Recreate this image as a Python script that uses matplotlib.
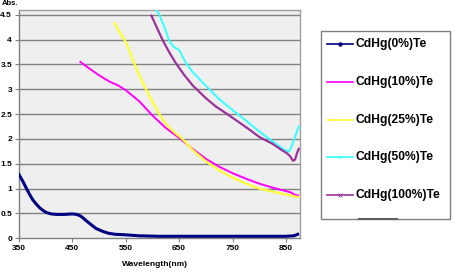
import matplotlib
matplotlib.use("Agg")
import matplotlib.pyplot as plt
from matplotlib.lines import Line2D
from matplotlib.patches import Rectangle

plt.rcParams['font.family'] = ['Liberation Sans', 'DejaVu Sans']

labels = ["CdHg(0%)Te", "CdHg(10%)Te", "CdHg(25%)Te", "CdHg(50%)Te", "CdHg(100%)Te"]
colors = ["#000080", "#FF00FF", "#FFFF33", "#33FFFF", "#993399"]

wl0 = [350, 357, 364, 370, 376, 383, 389, 395, 401, 410, 420, 435, 450, 458, 465, 470, 475, 482, 488, 494, 500, 509, 518, 530, 549, 575, 611, 650, 700, 750, 800, 850, 865, 872]
ab0 = [1.28, 1.15, 1.0, 0.88, 0.77, 0.68, 0.61, 0.56, 0.52, 0.49, 0.48, 0.48, 0.49, 0.48, 0.45, 0.41, 0.36, 0.30, 0.25, 0.20, 0.17, 0.13, 0.10, 0.08, 0.07, 0.05, 0.04, 0.04, 0.04, 0.04, 0.04, 0.04, 0.05, 0.08]

wl10 = [465, 480, 500, 520, 535, 550, 575, 600, 625, 650, 675, 700, 725, 750, 775, 800, 825, 850, 860, 865, 873]
ab10 = [3.55, 3.43, 3.28, 3.15, 3.08, 2.98, 2.76, 2.47, 2.22, 2.02, 1.80, 1.60, 1.44, 1.31, 1.20, 1.10, 1.02, 0.95, 0.92, 0.88, 0.86]

wl25 = [529, 540, 550, 563, 575, 590, 600, 613, 625, 640, 656, 675, 700, 725, 750, 775, 800, 825, 850, 873]
ab25 = [4.33, 4.12, 3.95, 3.60, 3.28, 2.95, 2.75, 2.50, 2.30, 2.14, 2.00, 1.78, 1.55, 1.37, 1.22, 1.10, 1.00, 0.94, 0.88, 0.83]

wl50 = [598, 605, 613, 622, 632, 640, 650, 663, 675, 700, 725, 750, 775, 800, 825, 843, 855, 858, 865, 871, 874]
ab50 = [4.70, 4.62, 4.50, 4.26, 3.96, 3.85, 3.79, 3.52, 3.35, 3.07, 2.80, 2.58, 2.37, 2.15, 1.95, 1.81, 1.74, 1.78, 1.98, 2.16, 2.25]

wl100 = [598, 610, 619, 630, 644, 660, 675, 700, 719, 740, 756, 780, 800, 825, 843, 852, 858, 863, 867, 871, 874]
ab100 = [4.48, 4.20, 3.99, 3.77, 3.52, 3.28, 3.08, 2.82, 2.65, 2.50, 2.38, 2.20, 2.04, 1.90, 1.77, 1.71, 1.65, 1.56, 1.58, 1.72, 1.80]

xticks = [350, 450, 550, 650, 750, 850]
yticks = [0, 0.5, 1, 1.5, 2, 2.5, 3, 3.5, 4, 4.5]
ytick_labels = ["0", "0.5", "1", "1.5", "2", "2.5", "3", "3.5", "4", "4.5"]

W, H = 457, 272
fig = plt.figure(figsize=(W / 100, H / 100), dpi=100)
ax = fig.add_axes([0.0416, 0.124, 0.6144, 0.8403])
ax.set_facecolor("#EFEFEF")
ax.set_xlim(350, 876)
ax.set_ylim(0, 4.6)

for y in yticks[1:]:
    ax.axhline(y, color="#808080", lw=1.0, zorder=1)

series = [(wl0, ab0), (wl10, ab10), (wl25, ab25), (wl50, ab50), (wl100, ab100)]
lws = [2.2, 1.4, 1.6, 1.4, 1.6]
for (x, y), c, lw in zip(series, colors, lws):
    ax.plot(x, y, color=c, lw=lw, zorder=3, solid_joinstyle='round')

ax.set_xticks(xticks)
ax.set_xticklabels([str(t) for t in xticks], fontsize=6, fontweight='bold')
ax.set_yticks(yticks)
ax.set_yticklabels(ytick_labels, fontsize=6, fontweight='bold')
ax.tick_params(axis='both', length=3, width=0.8, color="#808080", pad=2)
for s in ax.spines.values():
    s.set_color("#A0A0A0")
    s.set_linewidth(1.0)
ax.spines['left'].set_color("#808080")
ax.spines['bottom'].set_color("#808080")

fig.text(0.34, 0.027, "Wavelength(nm)", fontsize=6, fontweight='bold', ha='center', va='center')
fig.text(0.005, 0.999, "Abs.", fontsize=5.5, fontweight='bold', ha='left', va='top')

# manual legend (pixel coordinates from top-left)
def fx(px):
    return px / W

def fy(py):
    return 1 - py / H

fig.add_artist(Rectangle((fx(321), fy(219)), fx(450) - fx(321), fy(31) - fy(219),
                         transform=fig.transFigure, facecolor='white', edgecolor='#808080', lw=1.0))
rows = [44, 82, 120, 157, 195]
markers = ['o', None, None, '.', 'x']
for lab, c, m, ry in zip(labels, colors, markers, rows):
    fig.add_artist(Line2D([fx(327), fx(353)], [fy(ry), fy(ry)], color=c, lw=1.2,
                          transform=fig.transFigure))
    if m:
        fig.add_artist(Line2D([fx(340)], [fy(ry)], color=c, marker=m, markersize=2.5,
                              markeredgewidth=0.6, transform=fig.transFigure))
    fig.text(fx(356), fy(ry), lab, fontsize=8.7, fontweight='bold', ha='left', va='center')

fig.add_artist(Line2D([fx(359), fx(397)], [fy(219), fy(219)], color="#606060", lw=1.5,
                      transform=fig.transFigure))

fig.savefig("out.png", dpi=100)
